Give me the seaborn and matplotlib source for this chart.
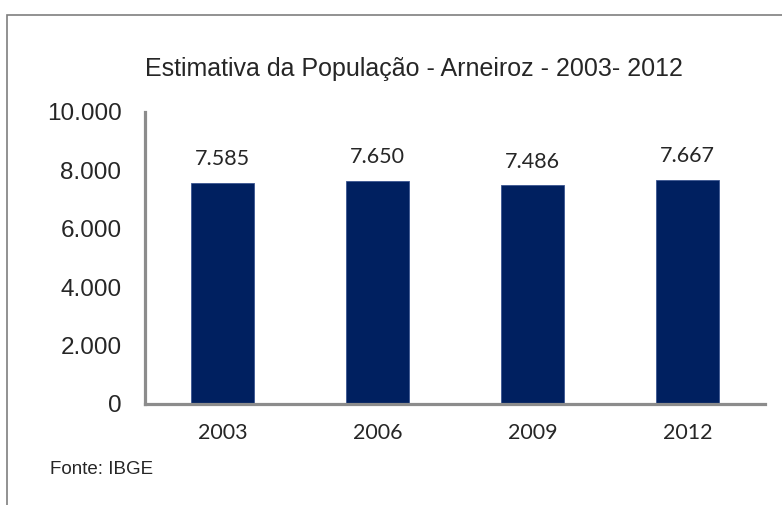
import matplotlib
matplotlib.use("Agg")
import matplotlib.pyplot as plt
import seaborn as sns
from matplotlib.patches import Rectangle

# data
anos = ["2003", "2006", "2009", "2012"]
populacao = [7585, 7650, 7486, 7667]
rotulos = ["7.585", "7.650", "7.486", "7.667"]
yticks = [0, 2000, 4000, 6000, 8000, 10000]
ytick_labels = ["0", "2.000", "4.000", "6.000", "8.000", "10.000"]

sns.set_style("white")
plt.rcParams['font.family'] = ['Liberation Sans', 'DejaVu Sans']

fig = plt.figure(figsize=(7.82, 5.05), dpi=100)
ax = fig.add_axes([145 / 782, 1 - 404 / 505, 620 / 782, 292 / 505])

sns.barplot(x=anos, y=populacao, color="#002060", width=0.41, ax=ax,
            saturation=1, edgecolor="#3a5590", linewidth=0.6)

ax.set_ylim(0, 10000)
ax.set_yticks(yticks)
ax.set_yticklabels(ytick_labels, fontsize=17.5)
ax.tick_params(axis='y', length=0, pad=17)
ax.tick_params(axis='x', length=0, pad=14)
for lab in ax.get_xticklabels():
    lab.set_fontfamily('Lato')
    lab.set_fontsize(15.5)
ax.set_xlabel("")
ax.set_ylabel("")

for s in ["top", "right"]:
    ax.spines[s].set_visible(False)
for s in ["left", "bottom"]:
    ax.spines[s].set_color("#8c8c8c")
    ax.spines[s].set_linewidth(2.3)

for i, (v, t) in enumerate(zip(populacao, rotulos)):
    ax.annotate(t, (i, v), xytext=(0, 10), textcoords="offset points",
                ha="center", va="bottom", fontsize=15.5, family="Lato")

fig.text(414 / 782, 1 - 69 / 505, "Estimativa da População - Arneiroz - 2003- 2012",
         ha="center", va="center", fontsize=18)
fig.text(50 / 782, 1 - 469 / 505, "Fonte: IBGE", ha="left", va="center", fontsize=13.5)

# outer frame (cut off at right and bottom in the original)
fig.add_artist(Rectangle((7 / 782, -0.2), 1.1, 1 - 15 / 505 + 0.2,
                         transform=fig.transFigure, fill=False,
                         edgecolor="#7f7f7f", linewidth=1.2))

fig.savefig("out.png", dpi=100)
